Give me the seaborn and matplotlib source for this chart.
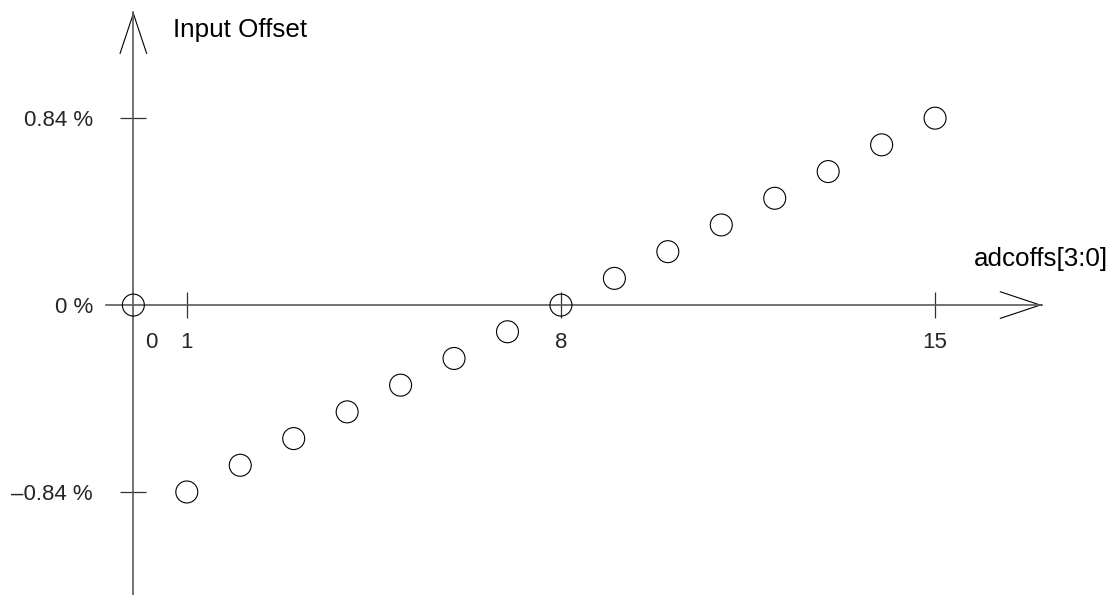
import matplotlib
matplotlib.use("Agg")
import matplotlib.pyplot as plt
import matplotlib.transforms as mtransforms
import seaborn as sns
import pandas as pd

# ---- data ----
adc_codes = [0, 1, 2, 3, 4, 5, 6, 7, 8, 9, 10, 11, 12, 13, 14, 15]
input_offset = [0.0, -0.84, -0.72, -0.60, -0.48, -0.36, -0.24, -0.12,
                0.0, 0.12, 0.24, 0.36, 0.48, 0.60, 0.72, 0.84]
x_ticks = [0, 1, 8, 15]
x_tick_labels = ["0", "1", "8", "15"]
y_ticks = [-0.84, 0.0, 0.84]
y_tick_labels = ["\u20130.84 %", "0 %", "0.84 %"]
x_title = "adcoffs[3:0]"
y_title = "Input Offset"

sns.set_theme(style="white")
plt.rcParams["font.family"] = ["Liberation Sans", "DejaVu Sans"]

df = pd.DataFrame({"code": adc_codes, "offset": input_offset})

fig = plt.figure(figsize=(11.16, 5.95), dpi=100)
ax = fig.add_axes([0, 0, 1, 1])

axis_col = "#5a5a5a"

# data limits chosen so the layout matches the reference
xmin, xmax = -2.495, 18.385
ymin, ymax = -1.303, 1.371
ax.set_xlim(xmin, xmax)
ax.set_ylim(ymin, ymax)

sns.scatterplot(data=df, x="code", y="offset", ax=ax, s=250,
                facecolor="none", edgecolor="black", linewidth=0.8,
                zorder=5, legend=False)

# axes through origin
for side in ["top", "right"]:
    ax.spines[side].set_visible(False)
ax.spines["left"].set_position(("data", 0))
ax.spines["bottom"].set_position(("data", 0))
x_end, y_end = 17.0, 1.318
ax.spines["bottom"].set_bounds(-0.51, x_end)
ax.spines["left"].set_bounds(ymin, y_end)
for side in ["left", "bottom"]:
    ax.spines[side].set_color(axis_col)
    ax.spines[side].set_linewidth(1.2)
    ax.spines[side].set_zorder(3)

# open arrow heads
arrow_kw = dict(arrowstyle="->,head_length=2.88,head_width=0.96",
                mutation_scale=10, lw=0.8, color="black",
                shrinkA=0, shrinkB=0)
ax.annotate("", xy=(x_end, 0), xytext=(x_end - 0.01, 0), arrowprops=arrow_kw)
ax.annotate("", xy=(0, y_end), xytext=(0, y_end - 0.005), arrowprops=arrow_kw)

# ticks
ax.set_xticks(x_ticks, x_tick_labels)
ax.set_yticks(y_ticks, y_tick_labels)
ax.tick_params(axis="x", direction="inout", length=19.4, width=0.9,
               color="#333333", pad=10, labelsize=16, bottom=True)
ax.tick_params(axis="y", direction="inout", length=19.4, width=0.9,
               color="#333333", pad=19.5, labelsize=16, left=True)
ax.set_xlabel("")
ax.set_ylabel("")

# hide tick marks at origin, keep labels
ax.xaxis.get_major_ticks()[0].tick1line.set_visible(False)
ax.yaxis.get_major_ticks()[1].tick1line.set_visible(False)
lbl0 = ax.xaxis.get_major_ticks()[0].label1
lbl0.set_transform(lbl0.get_transform() +
                   mtransforms.ScaledTranslation(0.184, 0, fig.dpi_scale_trans))

# axis titles
ax.text(0.74, 1.236, y_title, fontsize=18.7, ha="left", va="center",
        color="black")
ax.text(18.235, 0.207, x_title, fontsize=18.7, ha="right", va="center",
        color="black")

fig.savefig("out.png", dpi=100)
